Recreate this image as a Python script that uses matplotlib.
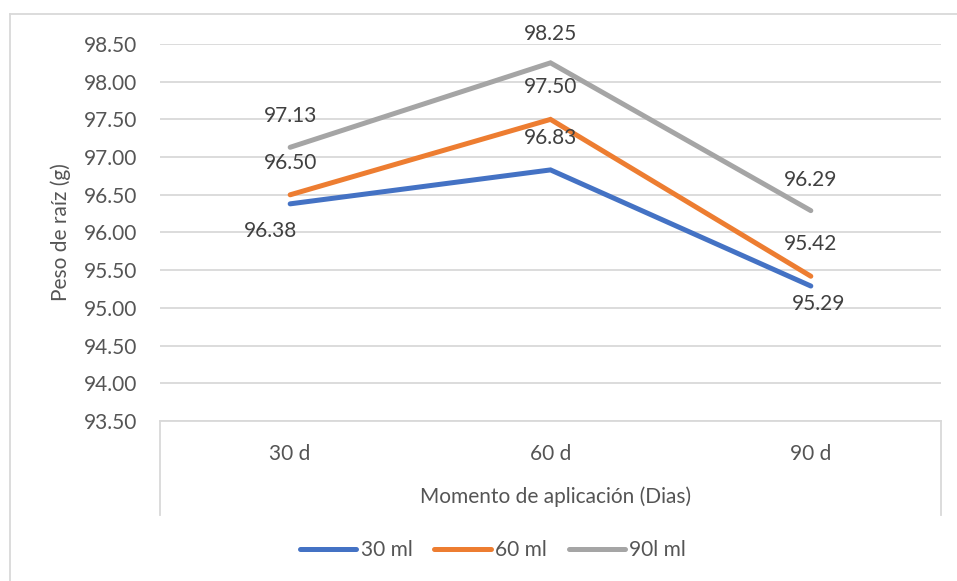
import matplotlib
matplotlib.use("Agg")
import matplotlib.pyplot as plt
from matplotlib.lines import Line2D

plt.rcParams['font.family'] = ['Lato', 'DejaVu Sans']

categories = ["30 d", "60 d", "90 d"]
series_names = ["30 ml", "60 ml", "90l ml"]
s30 = [96.38, 96.83, 95.29]
s60 = [96.50, 97.50, 95.42]
s90 = [97.13, 98.25, 96.29]
yticks = [93.50, 94.00, 94.50, 95.00, 95.50, 96.00, 96.50, 97.00, 97.50, 98.00, 98.50]

colors = ["#4472C4", "#ED7D31", "#A5A5A5"]
# label offsets in pixels (dx, dy screen-up positive)
offsets = [
    [(-20, -27), (0, 32), (8, -18)],
    [(0, 32), (0, 32), (0, 32)],
    [(0, 31), (0, 29), (0, 31)],
]

W, H = 957, 581
fig = plt.figure(figsize=(W / 100, H / 100), dpi=100)
fs = 15
grid_c = "#D9D9D9"
txt_c = "#555555"

L, R, T, B = 160, 941, 44, 421
ax = fig.add_axes([L / W, 1 - B / H, (R - L) / W, (B - T) / H])

x = list(range(len(categories)))
for vals, name, c, offs in zip([s30, s60, s90], series_names, colors, offsets):
    ax.plot(x, vals, color=c, lw=3.6, solid_capstyle='round', solid_joinstyle='miter', label=name, zorder=3)
    for xi, v, (dx, dy) in zip(x, vals, offs):
        ax.annotate(f"{v:.2f}", (xi, v), xytext=(dx * 0.72, dy * 0.72), textcoords='offset points',
                    ha='center', va='center', fontsize=fs, color="#404040", zorder=4)

ax.set_xlim(-0.5, len(categories) - 0.5)
ax.set_ylim(93.5, 98.5)
ax.set_yticks(yticks)
ax.set_yticklabels([f"{v:.2f}" for v in yticks])
ax.set_xticks(x)
ax.set_xticklabels(categories)
ax.tick_params(axis='y', length=0, pad=16.5, labelsize=fs, labelcolor=txt_c)
ax.tick_params(axis='x', length=0, pad=16.5, labelsize=fs, labelcolor=txt_c)
ax.grid(axis='y', color=grid_c, lw=1.3)
ax.set_axisbelow(True)
for sp in ['top', 'right', 'left']:
    ax.spines[sp].set_visible(False)
ax.spines['bottom'].set_color(grid_c)
ax.spines['bottom'].set_linewidth(1.3)

def fl(x0, y0, x1, y1):
    fig.add_artist(Line2D([x0 / W, x1 / W], [1 - y0 / H, 1 - y1 / H], color=grid_c, lw=1.3,
                          transform=fig.transFigure))

fl(L, B, L, 515)
fl(R, B, R, 515)
fl(10, 14, W + 5, 14)
fl(10, 14, 10, H + 5)

fig.text(556 / W, 1 - 497 / H, "Momento de aplicación (Dias)", ha='center', va='center',
         fontsize=fs, color=txt_c)
fig.text(61 / W, 1 - 232 / H, "Peso de raíz (g)", ha='center', va='center', rotation=90,
         fontsize=fs, color=txt_c)

handles = [Line2D([0], [0], color=c, lw=3.6, solid_capstyle='round') for c in colors]
fig.legend(handles, series_names, loc='center', bbox_to_anchor=(493 / W, 1 - 550 / H), ncol=3,
           frameon=False, fontsize=fs, labelcolor=txt_c, handlelength=2.7, handletextpad=0.2,
           columnspacing=1.05)

fig.savefig("out.png", dpi=100)
